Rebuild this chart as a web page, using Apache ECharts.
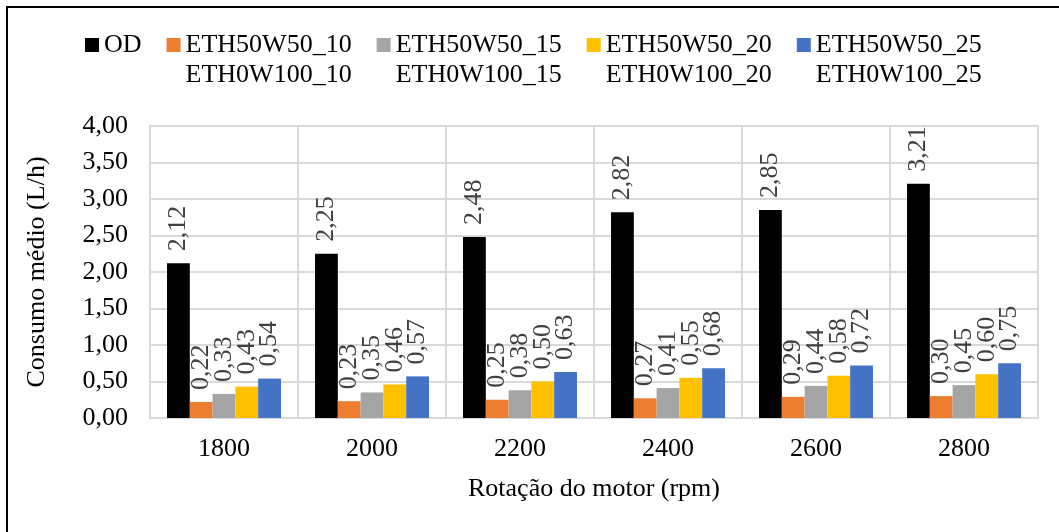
<!DOCTYPE html>
<html>
<head>
<meta charset="utf-8">
<script src="https://cdn.jsdelivr.net/npm/echarts@6/dist/echarts.min.js"></script>
<style>
  html, body { margin: 0; padding: 0; background: #ffffff; }
  #chart { width: 1059px; height: 532px; }
</style>
</head>
<body>
<div id="chart"></div>
<script>
// Rotação do motor (rpm)
const categories = ['1800', '2000', '2200', '2400', '2600', '2800'];

// Consumo médio (L/h) per fuel blend
const seriesNames = [
  'OD',
  'ETH50W50_10\nETH0W100_10',
  'ETH50W50_15\nETH0W100_15',
  'ETH50W50_20\nETH0W100_20',
  'ETH50W50_25\nETH0W100_25'
];
const od      = [2.12, 2.25, 2.48, 2.82, 2.85, 3.21];
const blend10 = [0.22, 0.23, 0.25, 0.27, 0.29, 0.30];
const blend15 = [0.33, 0.35, 0.38, 0.41, 0.44, 0.45];
const blend20 = [0.43, 0.46, 0.50, 0.55, 0.58, 0.60];
const blend25 = [0.54, 0.57, 0.63, 0.68, 0.72, 0.75];

const yTicks = [0, 0.5, 1, 1.5, 2, 2.5, 3, 3.5, 4];

const colors = ['#000000', '#ED7D31', '#A5A5A5', '#FFC000', '#4472C4'];
const seriesValues = [od, blend10, blend15, blend20, blend25];

const FONT = '"Liberation Serif", "Times New Roman", serif';
const fmt = v => Number(v).toFixed(2).replace('.', ',');

const chart = echarts.init(document.getElementById('chart'), null, { renderer: 'canvas' });

chart.setOption({
  backgroundColor: '#ffffff',
  animation: false,
  textStyle: { fontFamily: FONT },
  graphic: [{
    type: 'rect',
    shape: { x: 7, y: 7, width: 1200, height: 700 },
    style: { fill: 'none', stroke: '#000000', lineWidth: 2 },
    silent: true
  }],
  legend: {
    left: 85,
    top: 0,
    padding: 0,
    itemGap: 25,
    itemWidth: 14,
    itemHeight: 14,
    icon: 'rect',
    // two-line names: an empty leading line keeps the swatch level with the first line
    formatter: name => name.indexOf('\n') >= 0 ? '\n' + name : name,
    textStyle: {
      fontFamily: FONT,
      fontSize: 26,
      color: '#000000',
      lineHeight: 30
    },
    data: seriesNames
  },
  grid: { left: 150, right: 21, top: 126, bottom: 114, containLabel: false },
  xAxis: {
    type: 'category',
    data: categories,
    name: 'Rotação do motor (rpm)',
    nameLocation: 'middle',
    nameGap: 58,
    nameTextStyle: { fontFamily: FONT, fontSize: 26, color: '#000000' },
    axisLine: { show: true, lineStyle: { color: '#D9D9D9', width: 2 } },
    axisTick: { show: false },
    axisLabel: { fontFamily: FONT, fontSize: 26, color: '#000000', margin: 18 },
    splitLine: { show: true, lineStyle: { color: '#D9D9D9', width: 2 } }
  },
  yAxis: {
    type: 'value',
    min: 0,
    max: 4,
    interval: 0.5,
    name: 'Consumo médio (L/h)',
    nameLocation: 'middle',
    nameGap: 100,
    nameTextStyle: { fontFamily: FONT, fontSize: 26, color: '#000000' },
    axisLine: { show: true, lineStyle: { color: '#D9D9D9', width: 2 } },
    axisTick: { show: false },
    axisLabel: {
      fontFamily: FONT, fontSize: 26, color: '#000000', margin: 22,
      formatter: v => yTicks.includes(v) ? fmt(v) : ''
    },
    splitLine: { show: true, lineStyle: { color: '#D9D9D9', width: 2 } }
  },
  series: seriesNames.map((name, i) => ({
    type: 'bar',
    name: name,
    data: seriesValues[i],
    barGap: '0%',
    barCategoryGap: '23%',
    itemStyle: { color: colors[i] },
    label: {
      show: true,
      position: 'top',
      rotate: 90,
      align: 'left',
      verticalAlign: 'middle',
      distance: 12,
      fontFamily: FONT,
      fontSize: 26,
      color: '#404040',
      formatter: p => fmt(p.value)
    }
  }))
});
</script>
</body>
</html>
